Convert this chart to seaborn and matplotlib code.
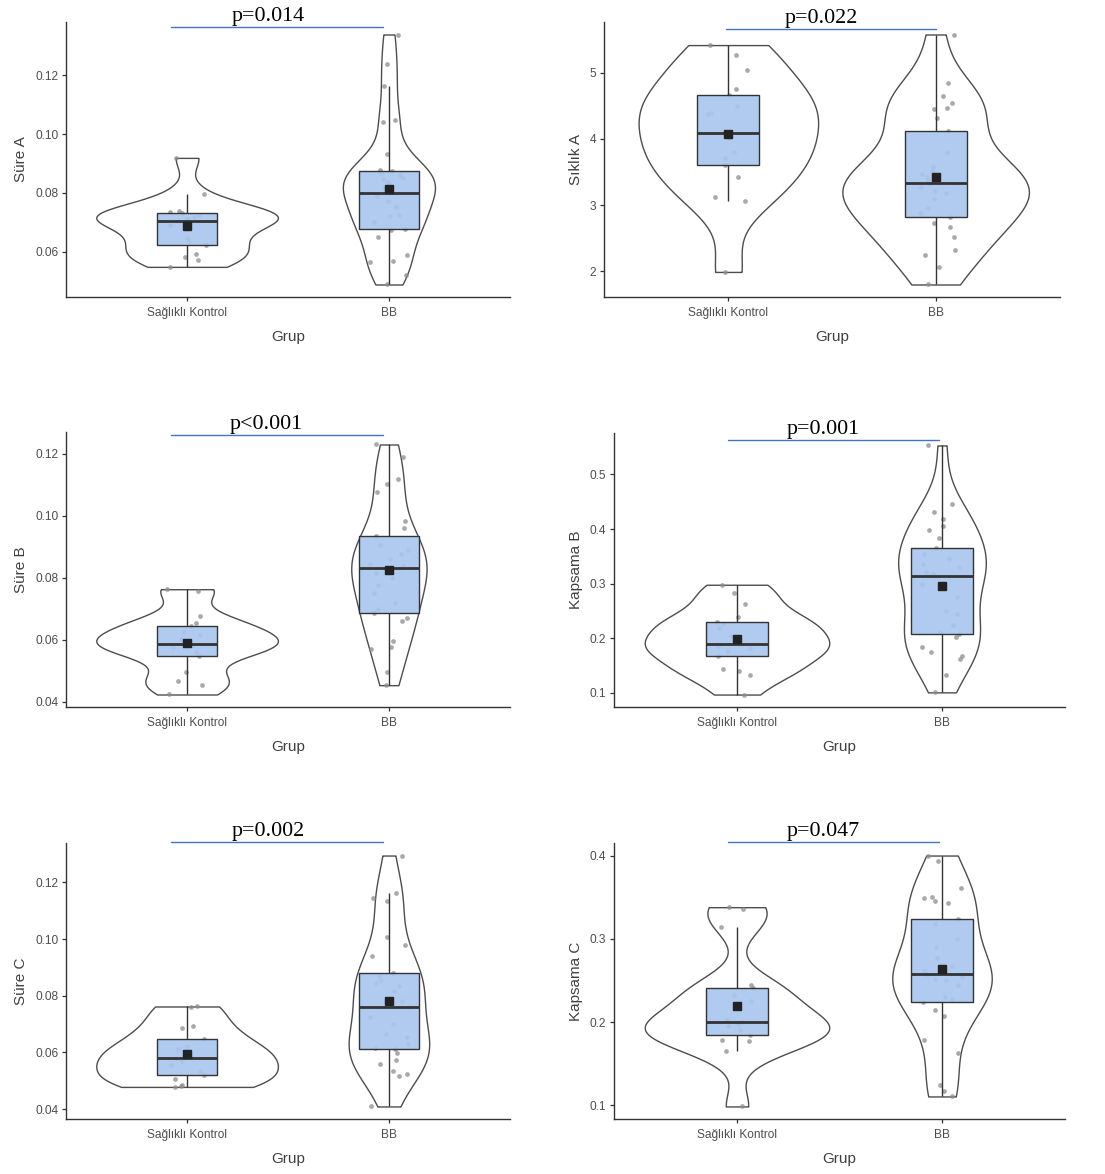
import numpy as np
import pandas as pd
import matplotlib
matplotlib.use("Agg")
import matplotlib.pyplot as plt
import matplotlib.transforms as mtransforms
from matplotlib.ticker import MultipleLocator, FormatStrFormatter
import seaborn as sns

# ---------------- data ----------------
groups = ["Sağlıklı Kontrol", "BB"]
x_label = "Grup"

sure_a_sk = [0.0548, 0.0573, 0.0580, 0.0591, 0.0621, 0.0636, 0.0647, 0.0690, 0.0704,
             0.0712, 0.0718, 0.0725, 0.0730, 0.0734, 0.0738, 0.0797, 0.0919]
sure_a_bb = [0.0488, 0.0520, 0.0565, 0.0567, 0.0588, 0.0650, 0.0672, 0.0678, 0.0700,
             0.0720, 0.0723, 0.0751, 0.0771, 0.0788, 0.0800, 0.0815, 0.0838, 0.0847,
             0.0852, 0.0860, 0.0868, 0.0875, 0.0878, 0.0932, 0.1040, 0.1049, 0.1162,
             0.1240, 0.1339]

siklik_a_sk = [1.99, 3.07, 3.12, 3.42, 3.61, 3.72, 3.81, 4.02, 4.09, 4.38, 4.40, 4.50,
               4.67, 4.75, 5.05, 5.27, 5.42]
siklik_a_bb = [1.80, 2.06, 2.24, 2.32, 2.52, 2.67, 2.73, 2.82, 2.88, 2.95, 3.10, 3.18,
               3.22, 3.28, 3.34, 3.38, 3.42, 3.47, 3.52, 3.58, 3.80, 4.12, 4.31, 4.46,
               4.47, 4.55, 4.65, 4.85, 5.58]

sure_b_sk = [0.0424, 0.0453, 0.0467, 0.0495, 0.0549, 0.0560, 0.0577, 0.0582, 0.0586,
             0.0602, 0.0615, 0.0625, 0.0643, 0.0655, 0.0678, 0.0758, 0.0763]
sure_b_bb = [0.0454, 0.0495, 0.0570, 0.0577, 0.0595, 0.0662, 0.0669, 0.0685, 0.0700,
             0.0720, 0.0750, 0.0775, 0.0800, 0.0815, 0.0832, 0.0838, 0.0845, 0.0860,
             0.0875, 0.0890, 0.0905, 0.0933, 0.0960, 0.0982, 0.1077, 0.1101, 0.1117,
             0.1190, 0.1229]

kapsama_b_sk = [0.097, 0.133, 0.1394, 0.1436, 0.1667, 0.176, 0.182, 0.186, 0.1903,
                0.205, 0.218, 0.226, 0.229, 0.2394, 0.2624, 0.283, 0.298]
kapsama_b_bb = [0.101, 0.133, 0.162, 0.168, 0.175, 0.184, 0.203, 0.2073, 0.212, 0.225,
                0.245, 0.250, 0.275, 0.300, 0.3139, 0.318, 0.322, 0.330, 0.336, 0.345,
                0.355, 0.3655, 0.3836, 0.398, 0.406, 0.418, 0.4303, 0.4455, 0.553]

sure_c_sk = [0.0478, 0.0482, 0.0486, 0.0505, 0.0521, 0.0535, 0.0555, 0.0568, 0.0580,
             0.0600, 0.0612, 0.0621, 0.0647, 0.0686, 0.0694, 0.0760, 0.0762]
sure_c_bb = [0.0409, 0.0515, 0.0524, 0.0533, 0.0560, 0.0574, 0.0598, 0.0612, 0.0615,
             0.0630, 0.0654, 0.0666, 0.0700, 0.0725, 0.0759, 0.0780, 0.0815, 0.0835,
             0.0845, 0.0855, 0.0868, 0.0882, 0.0939, 0.0980, 0.1006, 0.1133, 0.1144,
             0.1162, 0.1295]

kapsama_c_sk = [0.0988, 0.1648, 0.1768, 0.1788, 0.1848, 0.1900, 0.1956, 0.1980, 0.2004,
                0.2030, 0.2250, 0.2330, 0.2408, 0.2448, 0.3148, 0.336, 0.338]
kapsama_c_bb = [0.1108, 0.1168, 0.1248, 0.1628, 0.1788, 0.2076, 0.2148, 0.224, 0.228,
                0.230, 0.2448, 0.2508, 0.252, 0.255, 0.2576, 0.262, 0.268, 0.2776,
                0.290, 0.300, 0.3176, 0.324, 0.3436, 0.346, 0.3496, 0.3508, 0.3608,
                0.394, 0.400]

y_labels = ["Süre A", "Sıklık A", "Süre B", "Kapsama B", "Süre C", "Kapsama C"]
p_texts = ["p=0.014", "p=0.022", "p<0.001", "p=0.001", "p=0.002", "p=0.047"]
series = [(sure_a_sk, sure_a_bb), (siklik_a_sk, siklik_a_bb), (sure_b_sk, sure_b_bb),
          (kapsama_b_sk, kapsama_b_bb), (sure_c_sk, sure_c_bb), (kapsama_c_sk, kapsama_c_bb)]

# ---------------- layout / style ----------------
W, H = 1105, 1174
# (left, right, top, bottom) in pixels
boxes_px = [(66, 510, 22, 297), (604, 1060, 22, 297),
            (66, 510, 432, 707), (614, 1065, 433, 707),
            (66, 510, 843, 1119), (614, 1065, 843, 1119)]
tick_steps = [0.02, 1, 0.02, 0.1, 0.02, 0.1]
tick_fmts = ["%.2f", "%d", "%.2f", "%.1f", "%.2f", "%.1f"]
# p-annotation: line x-range (category units), line y (axes fraction), text x
p_line = [(-0.08, 0.97, 0.982, 0.40), (-0.01, 1.00, 0.975, 0.45),
          (-0.08, 0.97, 0.989, 0.39), (-0.045, 0.985, 0.974, 0.42),
          (-0.08, 0.97, 1.004, 0.40), (-0.045, 0.985, 1.004, 0.42)]

sns.set_theme(style="white")
plt.rcParams["font.family"] = ["Liberation Sans", "DejaVu Sans"]

LINE_COLOR = "#333333"
GREY_TXT = "#4D4D4D"


def nrd0(kde):
    x = np.asarray(kde.dataset).ravel()
    sd = x.std(ddof=1)
    q75, q25 = np.percentile(x, [75, 25])
    lo = min(sd, (q75 - q25) / 1.34)
    return 0.9 * lo * len(x) ** -0.2 / sd


np.random.seed(7)
fig = plt.figure(figsize=(W / 100, H / 100), dpi=100)

for i, ((sk, bb), ylab, ptxt) in enumerate(zip(series, y_labels, p_texts)):
    L, R, T, B = boxes_px[i]
    ax = fig.add_axes([L / W, 1 - B / H, (R - L) / W, (B - T) / H])
    df = pd.DataFrame({
        x_label: [groups[0]] * len(sk) + [groups[1]] * len(bb),
        "value": list(sk) + list(bb),
    })

    sns.violinplot(data=df, x=x_label, y="value", order=groups, ax=ax,
                   inner=None, cut=0, width=0.9, bw_method=nrd0, gridsize=512,
                   density_norm="area", color="white", linecolor="#4D4D4D",
                   linewidth=1.0, saturation=1)
    sns.stripplot(data=df, x=x_label, y="value", order=groups, ax=ax,
                  jitter=0.1, color="#8C8C8C", alpha=0.75, size=3.4,
                  linewidth=0, zorder=3)
    sns.boxplot(data=df, x=x_label, y="value", order=groups, ax=ax,
                width=0.3, whis=1.5, showfliers=False, showcaps=False,
                saturation=1, color="#A8C6EE", linecolor=LINE_COLOR,
                linewidth=1.0, zorder=4,
                boxprops=dict(facecolor=(0.659, 0.776, 0.933, 0.9),
                              edgecolor=LINE_COLOR),
                medianprops=dict(color=LINE_COLOR, linewidth=2.0),
                showmeans=True,
                meanprops=dict(marker="s", markerfacecolor="#222222",
                               markeredgecolor="#222222", markersize=5.5))

    vals = np.array(list(sk) + list(bb))
    rng = vals.max() - vals.min()
    ax.set_ylim(vals.min() - 0.05 * rng, vals.max() + 0.05 * rng)
    ax.set_xlim(-0.6, 1.6)
    ax.yaxis.set_major_locator(MultipleLocator(tick_steps[i]))
    ax.yaxis.set_major_formatter(FormatStrFormatter(tick_fmts[i]))

    for side in ("top", "right"):
        ax.spines[side].set_visible(False)
    for side in ("left", "bottom"):
        ax.spines[side].set_color("#333333")
        ax.spines[side].set_linewidth(1.0)
    ax.tick_params(axis="both", which="major", direction="out", length=3,
                   width=0.9, color="#333333", labelcolor=GREY_TXT, labelsize=8.6,
                   left=True, bottom=True)
    ax.tick_params(axis="x", pad=4.5)
    ax.tick_params(axis="y", pad=2.5)
    ax.set_xlabel(x_label, fontsize=11, color="#404040", labelpad=7.5)
    ax.set_ylabel(ylab, fontsize=11, color="#404040", labelpad=5)
    ax.grid(False)

    # significance annotation
    x0, x1, yl, xt = p_line[i]
    trans = mtransforms.blended_transform_factory(ax.transData, ax.transAxes)
    ax.plot([x0, x1], [yl, yl], color="#4472C4", linewidth=1.0,
            transform=trans, clip_on=False, zorder=6)
    ax.text(xt, yl + 0.004, ptxt, transform=trans, ha="center", va="bottom",
            fontsize=15.8, family=["Liberation Serif", "DejaVu Serif"],
            color="black", clip_on=False, zorder=6)

fig.savefig("out.png", dpi=100, facecolor="white")
